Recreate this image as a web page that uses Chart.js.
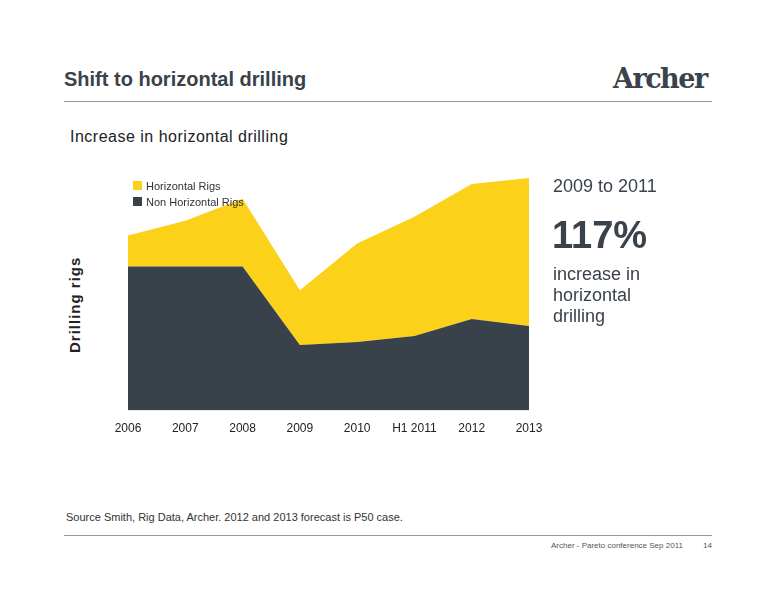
<!DOCTYPE html>
<html>
<head>
<meta charset="utf-8">
<script src="https://cdn.jsdelivr.net/npm/chart.js@4.4.0/dist/chart.umd.min.js"></script>
<style>
  body { margin: 0; background: #fff; font-family: "Liberation Sans", Arial, sans-serif; }
  #page { position: relative; width: 776px; height: 600px; overflow: hidden; }
  .abs { position: absolute; white-space: nowrap; }
  #chartBox { position: absolute; left: 98px; top: 162px; width: 461px; height: 285px; }
</style>
</head>
<body>
<div id="page">
  <div class="abs" style="left:64px;top:68px;font-size:20px;font-weight:bold;color:#3a424b;">Shift to horizontal drilling</div>
  <div class="abs" style="left:613px;top:63px;font-size:27px;font-weight:bold;color:#3a424b;font-family:'DejaVu Serif',serif;letter-spacing:-1.5px;">Archer</div>
  <div class="abs" style="left:64px;top:101px;width:648px;height:1px;background:#9a9a9a;"></div>
  <div class="abs" style="left:70px;top:128px;font-size:16px;color:#222;letter-spacing:0.5px;">Increase in horizontal drilling</div>
  <div class="abs" style="left:66px;top:353px;font-size:15px;font-weight:bold;color:#222;transform:rotate(-90deg);transform-origin:0 0;letter-spacing:1px;">Drilling rigs</div>

  <div id="chartBox"><canvas id="chart"></canvas></div>

  <div class="abs" style="left:133px;top:178px;font-size:11px;color:#333;line-height:16px;">
    <div><span style="display:inline-block;width:9px;height:9px;background:#fcd11a;margin-right:4px;"></span>Horizontal Rigs</div>
    <div><span style="display:inline-block;width:9px;height:9px;background:#39424a;margin-right:4px;"></span>Non Horizontal Rigs</div>
  </div>

  <div class="abs" style="left:553px;top:176px;font-size:18px;color:#3a424b;">2009 to 2011</div>
  <div class="abs" style="left:552px;top:214px;font-size:38px;font-weight:bold;color:#3a424b;">117%</div>
  <div class="abs" style="left:553px;top:264px;font-size:18px;color:#3a424b;line-height:21px;white-space:normal;width:120px;">increase in horizontal drilling</div>

  <div class="abs" style="left:66px;top:511px;font-size:11px;color:#333;">Source Smith, Rig Data, Archer. 2012 and 2013 forecast is P50 case.</div>
  <div class="abs" style="left:64px;top:535px;width:648px;height:1px;background:#9a9a9a;"></div>
  <div class="abs" style="left:551px;top:541px;font-size:8px;color:#555;">Archer - Pareto conference Sep 2011</div>
  <div class="abs" style="left:703px;top:541px;font-size:8px;color:#555;">14</div>
</div>
<script>
const labels = ["2006", "2007", "2008", "2009", "2010", "H1 2011", "2012", "2013"];
const nonHorizontal = [145, 145, 145, 66, 69, 75, 92, 85];
const horizontal = [31, 46, 68, 55, 99, 120, 136, 149];

new Chart(document.getElementById("chart"), {
  type: "line",
  data: {
    labels: labels,
    datasets: [
      { label: "Non Horizontal Rigs", data: nonHorizontal, backgroundColor: "#39424a", borderWidth: 0, pointRadius: 0, fill: "origin", tension: 0 },
      { label: "Horizontal Rigs", data: horizontal, backgroundColor: "#fcd11a", borderWidth: 0, pointRadius: 0, fill: "-1", tension: 0 }
    ]
  },
  options: {
    responsive: true,
    maintainAspectRatio: false,
    animation: false,
    layout: { padding: { left: 30, right: 30, top: 0, bottom: 0 } },
    plugins: { legend: { display: false }, tooltip: { enabled: false } },
    scales: {
      x: {
        offset: false,
        grid: { display: false, drawTicks: false },
        border: { display: false },
        ticks: { color: "#222", font: { size: 12, family: "Liberation Sans" }, padding: 11, maxRotation: 0, autoSkip: false }
      },
      y: { stacked: true, display: false, min: 0, max: 250 }
    }
  }
});
</script>
</body>
</html>
